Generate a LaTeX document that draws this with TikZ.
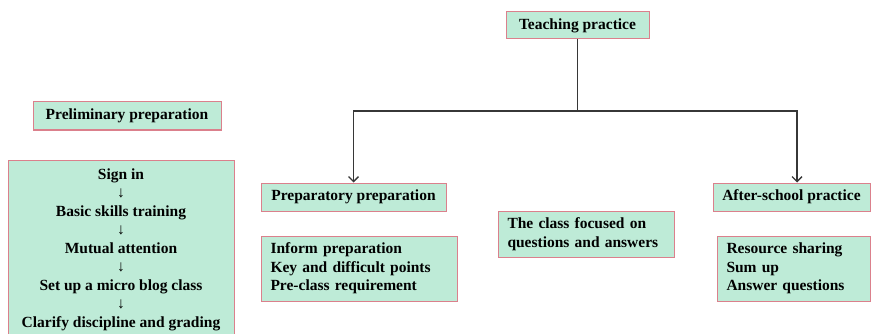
\documentclass[tikz,border=0pt]{standalone}
\usepackage{fontspec}
\setmainfont{Liberation Serif}
\usetikzlibrary{arrows.meta}
\definecolor{boxgreen}{RGB}{190,235,215}
\definecolor{boxred}{RGB}{219,128,140}
\definecolor{linegray}{RGB}{55,55,55}
\begin{document}
\begin{tikzpicture}[x=1pt,y=1pt, >={Straight Barb[length=5pt,width=10pt]}]
\tikzstyle{every node}+=[inner sep=0pt, font=\fontsize{15.5}{18.5}\selectfont\bfseries]
\tikzstyle{box}=[draw=boxred, fill=boxgreen, line width=1pt]
\tikzstyle{listbox}=[box, align=left, inner xsep=9.5pt]
\tikzstyle{link}=[linegray, line width=1.3pt]
\useasboundingbox (0,0) rectangle (872,-334);
\clip (0,0) rectangle (872,-334);
\node [box, minimum width=143, minimum height=27] (teach) at (577.5,-25.5) {Teaching practice};
\node [box, minimum width=185, minimum height=28] (prep) at (353.5,-197) {Preparatory preparation};
\node [listbox, text width=177, minimum height=65] (inform) at (359,-268.5) {Inform preparation\\Key and difficult points\\Pre-class requirement};
\node [listbox, text width=157, minimum height=46] (focus) at (586,-234) {The class focused on\\questions and answers};
\node [box, minimum width=157, minimum height=28] (after) at (791.5,-197) {After-school practice};
\node [listbox, text width=134, minimum height=65] (res) at (793.5,-268.5) {Resource sharing\\Sum up\\Answer questions};
\node [box, minimum width=188, minimum height=28] (prelim) at (127,-116) {Preliminary preparation};
\node [box, align=center, anchor=north, inner ysep=8pt, minimum width=226] (signin) at (121,-160) {Sign in\\{\normalfont ↓}\\Basic skills training\\{\normalfont ↓}\\Mutual attention\\{\normalfont ↓}\\Set up a micro blog class\\{\normalfont ↓}\\Clarify discipline and grading};
\coordinate (fork) at (577.5,-111);
\draw [link] (teach.south) -- (fork);
\draw [link, ->] (fork) -| (prep.north);
\draw [link, ->] (fork) -| ([xshift=5.5pt]after.north);
\end{tikzpicture}
\end{document}
